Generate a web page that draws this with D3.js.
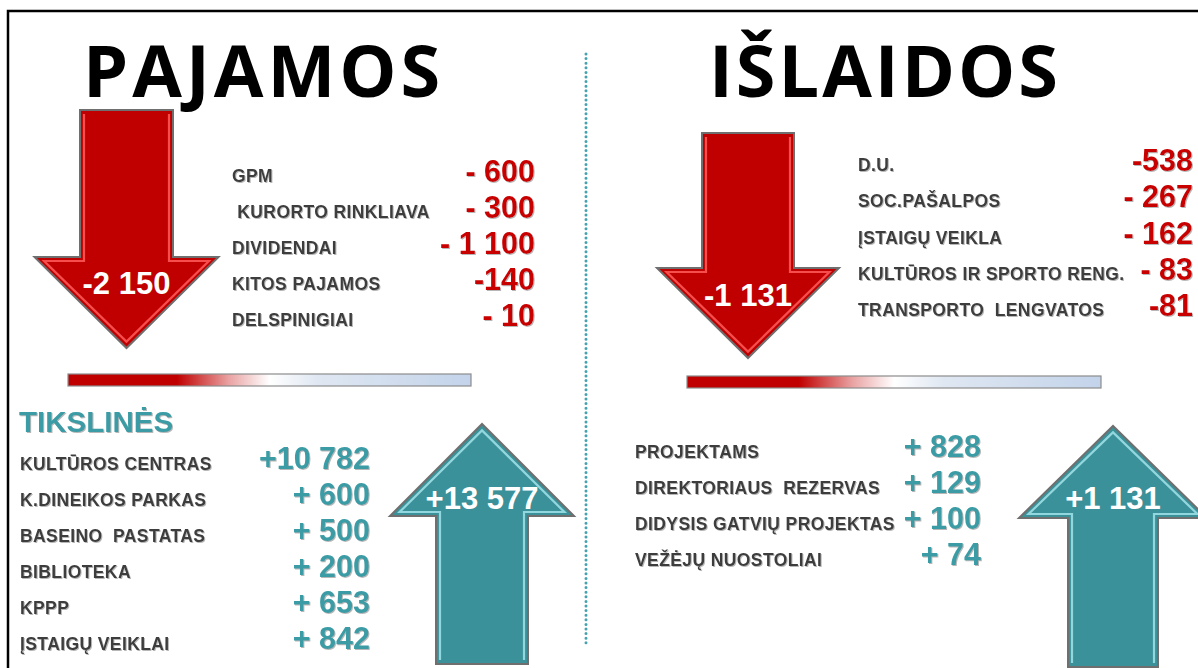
<!DOCTYPE html>
<html>
<head>
<meta charset="utf-8">
<script src="https://cdn.jsdelivr.net/npm/d3@7"></script>
<style>
  body { margin: 0; background: #fff; }
  svg { display: block; }
</style>
</head>
<body>
<div id="frame"></div>
<script>
// data
const pajamosLabels = ["GPM", " KURORTO RINKLIAVA", "DIVIDENDAI", "KITOS PAJAMOS", "DELSPINIGIAI"];
const pajamosValues = ["- 600", "- 300", "- 1 100", "-140", "- 10"];
const pajamosTotal = "-2 150";

const islaidosLabels = ["D.U.", "SOC.PAŠALPOS", "ĮSTAIGŲ VEIKLA", "KULTŪROS IR SPORTO RENG.", "TRANSPORTO  LENGVATOS"];
const islaidosValues = ["-538", "- 267", "- 162", "- 83", "-81"];
const islaidosTotal = "-1 131";

const tikslinesLabels = ["KULTŪROS CENTRAS", "K.DINEIKOS PARKAS", "BASEINO  PASTATAS", "BIBLIOTEKA", "KPPP", "ĮSTAIGŲ VEIKLAI"];
const tikslinesValues = ["+10 782", "+ 600", "+ 500", "+ 200", "+ 653", "+ 842"];
const tikslinesTotal = "+13 577";

const papildomaiLabels = ["PROJEKTAMS", "DIREKTORIAUS  REZERVAS", "DIDYSIS GATVIŲ PROJEKTAS", "VEŽĖJŲ NUOSTOLIAI"];
const papildomaiValues = ["+ 828", "+ 129", "+ 100", "+ 74"];
const papildomaiTotal = "+1 131";

// dimensions / colours
const width = 1198, height = 668;
const red = "#c00000", teal = "#3a9ca5", labelColor = "#3d3d3d";

let svg = d3.select('#frame')
  .append('svg')
  .attr('width', width)
  .attr('height', height);

let defs = svg.append('defs');

let grad = defs.append('linearGradient').attr('id', 'bar');
[[0, "#c00000"], [0.27, "#c00000"], [0.4, "#e9a3a3"], [0.5, "#ffffff"], [0.62, "#dfe7f2"], [1, "#c3d3ea"]]
  .forEach(s => grad.append('stop').attr('offset', s[0]).attr('stop-color', s[1]));

let shadow = defs.append('filter').attr('id', 'shadow')
  .attr('x', '-5%').attr('y', '-20%').attr('width', '110%').attr('height', '140%');
shadow.append('feDropShadow').attr('dx', 1).attr('dy', 1)
  .attr('stdDeviation', 0.6).attr('flood-color', '#999').attr('flood-opacity', 0.7);

//frame
svg.append('rect')
  .attr('x', 8).attr('y', 11)
  .attr('width', 1220).attr('height', 700)
  .attr('fill', 'none').attr('stroke', '#000').attr('stroke-width', 2.5);

//dotted divider
svg.append('line')
  .attr('x1', 586).attr('x2', 586).attr('y1', 54).attr('y2', 646)
  .attr('stroke', '#45a2ae').attr('stroke-width', 3)
  .attr('stroke-linecap', 'round').attr('stroke-dasharray', '0,4.6');

//titles
svg.selectAll('text.title')
  .data([{ t: "PAJAMOS", x: 83, ls: 4 }, { t: "IŠLAIDOS", x: 709, ls: 3 }])
  .enter().append('text')
  .attr('class', 'title')
  .attr('x', d => d.x).attr('y', 97)
  .style('font-family', '"Open Sans", sans-serif')
  .style('font-weight', 700)
  .style('font-size', '72px')
  .style('letter-spacing', d => d.ls + 'px')
  .text(d => d.t);

// arrow shape: dir 1 = down, -1 = up
function arrowPts(a, inset) {
  let d = inset || 0, s = a.dir;
  let sx0 = a.cx - a.shaftW / 2 + d, sx1 = a.cx + a.shaftW / 2 - d;
  let hx0 = a.cx - a.headW / 2 + d * 2.4, hx1 = a.cx + a.headW / 2 - d * 2.4;
  let base = a.base + s * d, neck = a.neck + s * d, tip = a.tip - s * d * 1.6;
  return [[sx0, base], [sx0, neck], [hx0, neck], [a.cx, tip], [hx1, neck], [sx1, neck], [sx1, base]];
}

function drawArrow(a) {
  let g = svg.append('g');
  g.append('polygon')
    .attr('points', arrowPts(a).map(p => p.join(',')).join(' '))
    .attr('fill', a.fill).attr('stroke', '#6f6f6f').attr('stroke-width', 2)
    .attr('stroke-linejoin', 'miter');
  g.append('polyline')
    .attr('points', arrowPts(a, 4).map(p => p.join(',')).join(' '))
    .attr('fill', 'none').attr('stroke', a.light).attr('stroke-width', 2.2)
    .attr('stroke-opacity', 0.85);
  g.append('text')
    .attr('x', a.cx).attr('y', a.labelY)
    .attr('text-anchor', 'middle')
    .attr('dominant-baseline', 'central')
    .style('font-family', '"Liberation Sans", Arial, sans-serif')
    .style('font-weight', 'bold')
    .style('font-size', '31px')
    .style('fill', '#fff')
    .text(a.label);
}

drawArrow({ cx: 126.5, shaftW: 93, headW: 184, base: 110, neck: 257, tip: 348, dir: 1,
  fill: red, light: "#ff5a5a", label: pajamosTotal, labelY: 283 });
drawArrow({ cx: 748, shaftW: 92, headW: 182, base: 133, neck: 268, tip: 358, dir: 1,
  fill: red, light: "#ff5a5a", label: islaidosTotal, labelY: 295 });
drawArrow({ cx: 482, shaftW: 92, headW: 184, base: 664, neck: 516, tip: 424, dir: -1,
  fill: "#3a9199", light: "#a3e3ea", label: tikslinesTotal, labelY: 498 });
drawArrow({ cx: 1113, shaftW: 90, headW: 188, base: 667, neck: 518, tip: 426, dir: -1,
  fill: "#3a9199", light: "#a3e3ea", label: papildomaiTotal, labelY: 498 });

//gradient bars
svg.selectAll('rect.bar')
  .data([{ x: 68, y: 374, w: 403 }, { x: 687, y: 376, w: 414 }])
  .enter().append('rect')
  .attr('class', 'bar')
  .attr('x', d => d.x).attr('y', d => d.y)
  .attr('width', d => d.w).attr('height', 12)
  .attr('fill', 'url(#bar)')
  .attr('stroke', '#8c8c8c').attr('stroke-width', 1.2);

// list block: labels at left, values right aligned
function drawList(labels, values, opts) {
  let y = d3.scaleBand()
    .domain(labels)
    .range([opts.top, opts.top + opts.step * labels.length]);
  let g = svg.append('g');
  g.selectAll('text.label')
    .data(labels)
    .enter().append('text')
    .attr('class', 'label')
    .attr('x', opts.labelX)
    .attr('y', d => y(d) + y.bandwidth() / 2)
    .attr('dominant-baseline', 'central')
    .attr('filter', 'url(#shadow)')
    .style('font-family', '"Liberation Sans", Arial, sans-serif')
    .style('font-weight', 'bold')
    .style('font-size', '17.5px')
    .style('letter-spacing', '0.4px')
    .style('fill', labelColor)
    .style('white-space', 'pre')
    .text(d => d);
  g.selectAll('text.value')
    .data(values)
    .enter().append('text')
    .attr('class', 'value')
    .attr('x', opts.valueX)
    .attr('y', (d, i) => y(labels[i]) + y.bandwidth() / 2 - opts.shift)
    .attr('text-anchor', 'end')
    .attr('dominant-baseline', 'central')
    .attr('filter', 'url(#shadow)')
    .style('font-family', '"Liberation Sans", Arial, sans-serif')
    .style('font-weight', 'bold')
    .style('font-size', '30.5px')
    .style('fill', opts.color)
    .style('white-space', 'pre')
    .text(d => d);
}

drawList(pajamosLabels, pajamosValues, { top: 158, step: 36, labelX: 232, valueX: 535, shift: 5, color: "#c80000" });
drawList(islaidosLabels, islaidosValues, { top: 147, step: 36.2, labelX: 858, valueX: 1193, shift: 5, color: "#c80000" });
drawList(tikslinesLabels, tikslinesValues, { top: 446, step: 36, labelX: 20, valueX: 370, shift: 6, color: teal });
drawList(papildomaiLabels, papildomaiValues, { top: 434, step: 36, labelX: 635, valueX: 981, shift: 6, color: teal });

svg.append('text')
  .attr('x', 19).attr('y', 432)
  .attr('filter', 'url(#shadow)')
  .style('font-family', '"Liberation Sans", Arial, sans-serif')
  .style('font-weight', 'bold')
  .style('font-size', '29.5px')
  .style('fill', teal)
  .text("TIKSLINĖS");
</script>
</body>
</html>
